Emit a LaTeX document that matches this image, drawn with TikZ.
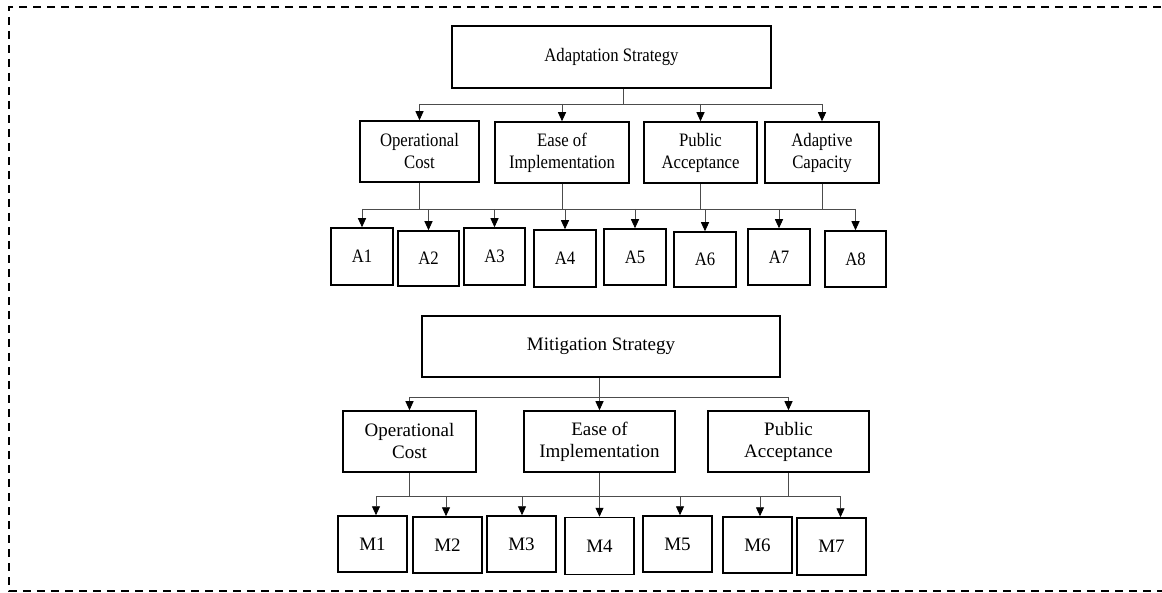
\documentclass[tikz,border=0pt]{standalone}
\usepackage{fontspec}
\setmainfont{Liberation Serif}
\newfontfamily\narrowserif{Liberation Serif}[FakeStretch=0.88]
\usetikzlibrary{arrows.meta}

\begin{document}
\begin{tikzpicture}[x=1pt,y=-1pt,
  abox/.style={draw,line width=1.5pt,inner sep=0pt,align=center,font=\narrowserif\fontsize{19}{22}\selectfont},
  mbox/.style={draw,line width=1.5pt,inner sep=0pt,align=center,font=\fontsize{19}{22}\selectfont},
  link/.style={draw=black!70,line width=0.9pt},
  arr/.style={link,-{Triangle[length=9pt,width=8pt,color=black]}},
  frame/.style={line width=1.4pt,dash pattern=on 8pt off 6pt}]
\useasboundingbox (0,0) rectangle (1162,593);

% outer dashed frame
\draw[frame] (1175,7) -- (9,7) -- (9,591) -- (1175,591);

% adaptation tree
\node[abox,minimum width=319,minimum height=62] (adapt) at (611.5,57) {Adaptation Strategy};
\node[abox,minimum width=119,minimum height=61] (aop) at (419.5,151.5) {Operational\\Cost};
\node[abox,minimum width=134,minimum height=61] (aea) at (562,152.5) {Ease of\\Implementation};
\node[abox,minimum width=113,minimum height=61] (apu) at (700.5,152.5) {Public\\Acceptance};
\node[abox,minimum width=114,minimum height=61] (aad) at (822,152.5) {Adaptive\\Capacity};

\node[abox,minimum width=62,minimum height=57] (a1) at (362,256.5) {A1};
\node[abox,minimum width=61,minimum height=55] (a2) at (428.5,258.5) {A2};
\node[abox,minimum width=61,minimum height=57] (a3) at (494.5,256.5) {A3};
\node[abox,minimum width=62,minimum height=57] (a4) at (565,258.5) {A4};
\node[abox,minimum width=62,minimum height=56] (a5) at (635,257) {A5};
\node[abox,minimum width=62,minimum height=55] (a6) at (705,259.5) {A6};
\node[abox,minimum width=62,minimum height=56] (a7) at (779,257) {A7};
\node[abox,minimum width=61,minimum height=56] (a8) at (855.5,259) {A8};

\coordinate (atop) at (623,104);
\coordinate (abus) at (0,209);
\draw[link] (atop |- adapt.south) -- (atop);
\draw[link] (atop -| aop) -- (atop -| aad);
\foreach \n in {aop,aea,apu,aad}
  \draw[arr] (atop -| \n) -- (\n.north);
\foreach \n in {aop,aea,apu,aad}
  \draw[link] (\n.south) -- (abus -| \n);
\draw[link] (abus -| a1) -- (abus -| a8);
\foreach \i in {1,...,8}
  \draw[arr] (abus -| a\i) -- (a\i.north);

% mitigation tree
\node[mbox,minimum width=358,minimum height=61] (mitig) at (601,346.5) {Mitigation Strategy};
\node[mbox,minimum width=133,minimum height=61] (mop) at (409.5,441.5) {Operational\\Cost};
\node[mbox,minimum width=151,minimum height=61] (mea) at (599.5,441.5) {Ease of\\Implementation};
\node[mbox,minimum width=161,minimum height=61] (mpu) at (788.5,441.5) {Public\\Acceptance};

\node[mbox,minimum width=69,minimum height=56] (m1) at (372.5,544) {M1};
\node[mbox,minimum width=69,minimum height=56] (m2) at (447.5,545) {M2};
\node[mbox,minimum width=69,minimum height=56] (m3) at (521.5,544) {M3};
\node[mbox,minimum width=69,minimum height=57] (m4) at (599.5,546) {M4};
\node[mbox,minimum width=69,minimum height=56] (m5) at (677.5,544) {M5};
\node[mbox,minimum width=69,minimum height=56] (m6) at (757.5,545) {M6};
\node[mbox,minimum width=69,minimum height=57] (m7) at (831.5,546.5) {M7};

\coordinate (mtop) at (599,397);
\coordinate (mbus) at (0,496);
\draw[link] (mtop |- mitig.south) -- (mtop);
\draw[link] (mtop -| mop) -- (mtop -| mpu);
\foreach \n in {mop,mea,mpu}
  \draw[arr] (mtop -| \n) -- (\n.north);
\foreach \n in {mop,mea,mpu}
  \draw[link] (\n.south) -- (mbus -| \n);
\draw[link] ([xshift=3.5]m1.north |- mbus) -- ([xshift=9]m7.north |- mbus);
\foreach \n/\s in {m1/3.5,m2/-1.5,m3/0.5,m4/0,m5/2.5,m6/2.5,m7/9}
  \draw[arr] ([xshift=\s]\n.north |- mbus) -- ([xshift=\s]\n.north);
\end{tikzpicture}
\end{document}
